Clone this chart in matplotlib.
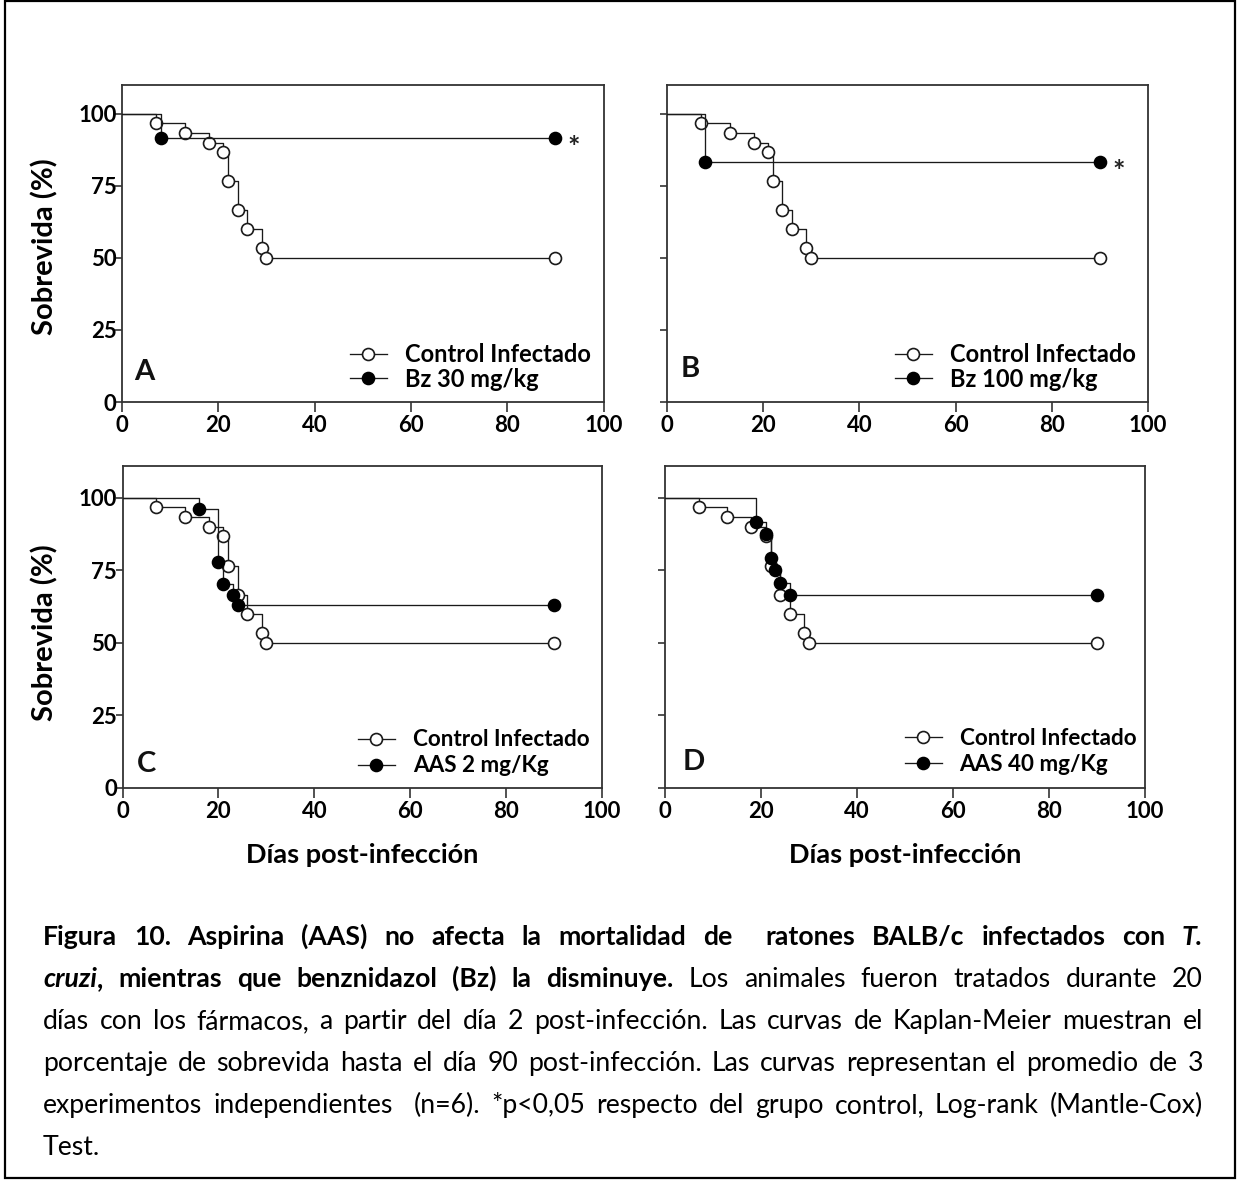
import matplotlib
matplotlib.use('Agg')
import matplotlib.pyplot as plt
from matplotlib.lines import Line2D
from matplotlib.patches import Rectangle
from matplotlib.font_manager import FontProperties

W, H, DPI = 1243, 1180, 100

# ---------------- data ----------------
control_days = [0, 7, 13, 18, 21, 22, 24, 26, 29, 30, 90]
control_surv = [100, 96.7, 93.3, 90.0, 86.7, 76.7, 66.7, 60.0, 53.3, 50.0, 50.0]
bz30_days = [0, 8, 90]
bz30_surv = [100, 91.7, 91.7]
bz100_days = [0, 8, 90]
bz100_surv = [100, 83.3, 83.3]
aas2_days = [0, 16, 20, 21, 23, 24, 90]
aas2_surv = [100, 96.3, 77.8, 70.4, 66.7, 63.0, 63.0]
aas40_days = [0, 19, 21, 22, 23, 24, 26, 90]
aas40_surv = [100, 91.7, 87.5, 79.2, 75.0, 70.8, 66.7, 66.7]

panel_letters = ['A', 'B', 'C', 'D']
control_label = 'Control Infectado'
treat_labels = ['Bz 30 mg/kg', 'Bz 100 mg/kg', 'AAS 2 mg/Kg', 'AAS 40 mg/Kg']
treat_days = [bz30_days, bz100_days, aas2_days, aas40_days]
treat_surv = [bz30_surv, bz100_surv, aas2_surv, aas40_surv]
significant = [True, True, False, False]
x_ticks = [0, 20, 40, 60, 80, 100]
y_ticks = [0, 25, 50, 75, 100]
y_label = 'Sobrevida (%)'
x_label = 'Días post-infección'

caption_lines = [
    [("Figura 10. Aspirina (AAS) no afecta la mortalidad de  ratones BALB/c infectados con ", 'b'), ("T.", 'bi')],
    [("cruzi", 'bi'), (", mientras que benznidazol (Bz) la disminuye.", 'b'),
     (" Los animales fueron tratados durante 20", 'n')],
    [("días con los fármacos, a partir del día 2 post-infección. Las curvas de Kaplan-Meier muestran el", 'n')],
    [("porcentaje de sobrevida hasta el día 90 post-infección. Las curvas representan el promedio de 3", 'n')],
    [("experimentos independientes  (n=6). *p<0,05 respecto del grupo control, Log-rank (Mantle-Cox)", 'n')],
    [("Test.", 'n')],
]

# ---------------- style ----------------
plt.rcParams['font.family'] = ['Lato', 'DejaVu Sans']
plt.rcParams['font.weight'] = 'bold'
LINE_C = '#1a1a1a'
SPINE_C = '#333333'
MS = 8.6
MEW = 1.2

fig = plt.figure(figsize=(W / DPI, H / DPI), dpi=DPI)

# axes boxes in pixels: left, top, right, bottom
boxes = [(122, 85, 603.5, 402), (667, 85, 1148, 402),
         (122.5, 466, 602, 788), (665, 466, 1145, 788)]
y_top = [110, 110, 111, 111]
legend_x = [0.4735, 0.474, 0.491, 0.499]
legend_y = [0.036, 0.036, 0.036, 0.040]
legend_size = [17, 17, 16.2, 16.2]
legend_spacing = [0.05, 0.05, 0.22, 0.22]
letter_pos = [(0.026, 0.069), (0.028, 0.079), (0.03, 0.05), (0.036, 0.056)]
ylabel_center = [247, 633]

for i, (l, t, r, b) in enumerate(boxes):
    ax = fig.add_axes([l / W, 1 - b / H, (r - l) / W, (b - t) / H])
    ax.set_xlim(0, 100)
    ax.set_ylim(0, y_top[i])
    for sp in ax.spines.values():
        sp.set_linewidth(1.3)
        sp.set_color(SPINE_C)
    ax.set_xticks(x_ticks)
    ax.set_yticks(y_ticks)
    ax.tick_params(axis='x', direction='out', length=7, width=1.2, pad=2,
                   labelsize=16, color=SPINE_C)
    ax.tick_params(axis='y', direction='out', length=5, width=1.2, pad=-1,
                   labelsize=16, color=SPINE_C)
    if i in (1, 3):
        ax.tick_params(axis='y', labelleft=False)

    # control curve
    ax.step(control_days, control_surv, where='post', color=LINE_C, lw=0.95, zorder=2)
    ax.plot(control_days[1:], control_surv[1:], 'o', ms=MS, mfc='white', mec=LINE_C,
            mew=MEW, zorder=3)
    # treatment curve
    ax.step(treat_days[i], treat_surv[i], where='post', color=LINE_C, lw=0.95, zorder=4)
    ax.plot(treat_days[i][1:], treat_surv[i][1:], 'o', ms=MS, mfc='black', mec='black',
            mew=MEW, zorder=5)

    if significant[i]:
        ax.annotate('*', xy=(93.9, treat_surv[i][-1]), xytext=(0, -13),
                    textcoords='offset points', ha='center', va='baseline',
                    fontsize=21, fontweight='bold', color='#222222')

    handles = [Line2D([], [], color=LINE_C, lw=0.95, marker='o', ms=MS, mfc='white',
                      mec=LINE_C, mew=MEW),
               Line2D([], [], color=LINE_C, lw=0.95, marker='o', ms=MS, mfc='black',
                      mec='black', mew=MEW)]
    leg_prop = FontProperties(family='Lato', weight='bold', size=legend_size[i])
    hl = 37 / (legend_size[i] * DPI / 72)
    hp = 18 / (legend_size[i] * DPI / 72)
    ax.legend(handles, [control_label, treat_labels[i]], loc='lower left',
              bbox_to_anchor=(legend_x[i], legend_y[i]), frameon=False, borderpad=0,
              borderaxespad=0, handlelength=hl, handletextpad=hp,
              labelspacing=legend_spacing[i], prop=leg_prop, numpoints=1)

    ax.text(letter_pos[i][0], letter_pos[i][1], panel_letters[i], transform=ax.transAxes,
            fontsize=21, fontweight='bold', va='baseline', ha='left', color='#111111')

    if i in (0, 2):
        ax.set_ylabel(y_label, fontsize=21, fontweight='bold')
        ax.yaxis.label.set_va('center')
        ax.yaxis.label.set_ha('center')
        ax.yaxis.set_label_coords((45 - l) / (r - l),
                                  (b - ylabel_center[i // 2]) / (b - t))
    if i in (2, 3):
        ax.set_xlabel(x_label, fontsize=19.5, fontweight='bold')
        ax.xaxis.label.set_va('baseline')
        ax.xaxis.set_label_coords(0.5, (b - 863) / (b - t))

# ---------------- outer border ----------------
fig.patches.append(Rectangle((5 / W, 1 - 1178 / H), (1235 - 5) / W, (1178 - 1) / H,
                             transform=fig.transFigure, fill=False, lw=1.6,
                             ec='black'))

# ---------------- justified caption ----------------
renderer = fig.canvas.get_renderer()
STYLES = {'b': ('normal', 'bold'), 'bi': ('italic', 'bold'), 'n': ('normal', 'normal')}
CAP_SIZE = 19.2


def tokenize(runs):
    words = []
    cur = []
    cur_gap = 0
    spaces = 0
    for text, style in runs:
        for ch in text:
            if ch == ' ':
                if cur:
                    words.append((cur_gap, cur))
                    cur = []
                spaces += 1
            else:
                if not cur:
                    cur_gap = spaces if words else 0
                    spaces = 0
                if cur and cur[-1][1] == style:
                    cur[-1] = (cur[-1][0] + ch, style)
                else:
                    cur.append((ch, style))
    if cur:
        words.append((cur_gap, cur))
    return words


def prop_for(style, size):
    st, wt = STYLES[style]
    return FontProperties(family='Lato', style=st, weight=wt, size=size)


def make_text(s, style, y, size):
    return fig.text(0, 1 - y / H, s, fontproperties=prop_for(style, size),
                    ha='left', va='baseline', color='black')


def ext_w(txt):
    return txt.get_window_extent(renderer).width


def space_width(size):
    p1 = fig.text(0, 0, 'a a', fontproperties=prop_for('n', size))
    p2 = fig.text(0, 0, 'aa', fontproperties=prop_for('n', size))
    sw = ext_w(p1) - ext_w(p2)
    p1.remove()
    p2.remove()
    return sw


X0, X1 = 43, 1203
baselines = [945, 987, 1029, 1071, 1113, 1155]


def layout(size):
    placed = []
    min_unit = 1e9
    sw = space_width(size)
    for li, runs in enumerate(caption_lines):
        words = tokenize(runs)
        objs = []
        wsum = 0
        for gap, frags in words:
            row = []
            for f, s in frags:
                tx = make_text(f, s, baselines[li], size)
                w_ = ext_w(tx)
                row.append((tx, w_))
                wsum += w_
            objs.append((gap, row))
        gaps = sum(g for g, _ in words)
        if li < len(caption_lines) - 1 and gaps > 0:
            unit = (X1 - X0 - wsum) / gaps
            min_unit = min(min_unit, unit)
        else:
            unit = sw
        placed.append((objs, unit))
    return placed, min_unit, sw


size = CAP_SIZE
placed, min_unit, sw = layout(size)
# shrink if any justified line would need spaces narrower than ~60% of normal
while min_unit < 0.6 * sw and size > 12:
    for objs, _ in placed:
        for gap, row in objs:
            for tx, _ in row:
                tx.remove()
    size -= 0.3
    placed, min_unit, sw = layout(size)

for objs, unit in placed:
    x = X0
    for gap, row in objs:
        x += gap * unit
        for tx, w_ in row:
            tx.set_x(x / W)
            x += w_

fig.savefig('out.png', dpi=DPI)
